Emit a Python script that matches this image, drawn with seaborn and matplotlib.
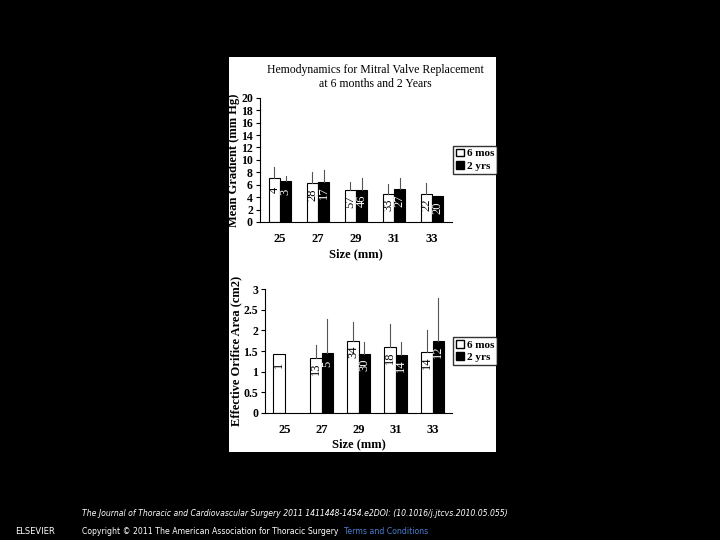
import matplotlib
matplotlib.use("Agg")
import matplotlib.pyplot as plt
import matplotlib.patches as mpatches
import seaborn as sns
import pandas as pd
import numpy as np

sizes = ["25", "27", "29", "31", "33"]
series = ["6 mos", "2 yrs"]
grad_6m = [7.0, 6.2, 5.1, 4.5, 4.5]
grad_6m_top = [8.8, 8.0, 6.5, 6.1, 6.2]
grad_2y = [6.6, 6.5, 5.2, 5.3, 4.1]
grad_2y_top = [7.4, 8.3, 7.1, 7.1, 4.1]
grad_n6 = ["4", "28", "57", "33", "22"]
grad_n2 = ["3", "17", "46", "27", "20"]
eoa_6m = [1.43, 1.33, 1.75, 1.60, 1.48]
eoa_6m_top = [1.43, 1.65, 2.2, 2.15, 2.0]
eoa_2y = [np.nan, 1.46, 1.43, 1.41, 1.74]
eoa_2y_top = [np.nan, 2.28, 1.73, 1.73, 2.8]
eoa_n6 = ["1", "13", "34", "18", "14"]
eoa_n2 = ["", "5", "30", "14", "12"]

serif = "Liberation Serif"
fig = plt.figure(figsize=(7.2, 5.4), dpi=100, facecolor="black")
bg = fig.add_axes([0.318, 0.163, 0.371, 0.731], zorder=-5)
bg.set_facecolor("white")
bg.set_xticks([]); bg.set_yticks([])
for s in bg.spines.values():
    s.set_visible(False)

def panel(rect, v6, t6, v2, t2, n6, n2, ylim, yticks, ylabel):
    ax = fig.add_axes(rect)
    ax.patch.set_alpha(0)
    vals = list(v6) + list(v2)
    df = pd.DataFrame({"size": sizes * 2, "series": [series[0]] * 5 + [series[1]] * 5,
                       "val": [0.0 if np.isnan(v) else v for v in vals]})
    sns.barplot(data=df, x="size", y="val", hue="series", palette=["white", "black"],
                edgecolor="black", linewidth=0.8, width=0.6, ax=ax, legend=False, errorbar=None)
    tops = list(t6) + list(t2)
    labels = list(n6) + list(n2)
    for i, p in enumerate(ax.patches[:10]):
        if np.isnan(vals[i]):
            p.set_visible(False)
            continue
        xc = p.get_x() + p.get_width() / 2
        ax.plot([xc, xc], [vals[i], tops[i]], color="#555555", lw=0.8, zorder=1)
        ax.text(xc, vals[i] - ylim[1] * 0.09, labels[i], rotation=90, ha="center", va="center",
                fontsize=9, fontfamily=serif, color="white" if i >= 5 else "black")
    ax.set_ylim(*ylim)
    ax.set_yticks(yticks)
    ax.set_yticklabels([f"{t:g}" for t in yticks], fontfamily=serif, fontweight="bold", fontsize=8.5)
    ax.set_xticks(range(5))
    ax.set_xticklabels(sizes, fontfamily=serif, fontweight="bold", fontsize=9)
    ax.set_xlabel("Size (mm)", fontfamily=serif, fontweight="bold", fontsize=9, labelpad=2)
    ax.set_ylabel(ylabel, fontfamily=serif, fontweight="bold", fontsize=9, labelpad=1)
    for s in ["top", "right"]:
        ax.spines[s].set_visible(False)
    ax.tick_params(axis="x", length=0, pad=8)
    ax.tick_params(axis="y", length=3, pad=2)
    handles = [mpatches.Patch(facecolor="white", edgecolor="black", label="6 mos"),
               mpatches.Patch(facecolor="black", edgecolor="black", label="2 yrs")]
    ax.legend(handles=handles, loc="center left", bbox_to_anchor=(1.0, 0.5),
              prop={"family": serif, "weight": "bold", "size": 8}, frameon=True,
              fancybox=False, edgecolor="black", handlelength=0.7, handleheight=0.7,
              handletextpad=0.3, borderpad=0.25, labelspacing=0.25, borderaxespad=0.1)
    return ax

ax1 = panel([0.361, 0.589, 0.267, 0.230], grad_6m, grad_6m_top, grad_2y, grad_2y_top,
            grad_n6, grad_n2, (0, 20), list(range(0, 21, 2)), "Mean Gradient (mm Hg)")
ax1.set_title("Hemodynamics for Mitral Valve Replacement\nat 6 months and 2 Years",
              fontfamily=serif, fontsize=8.5, pad=8, x=0.6)
ax2 = panel([0.368, 0.236, 0.260, 0.228], eoa_6m, eoa_6m_top, eoa_2y, eoa_2y_top,
            eoa_n6, eoa_n2, (0, 3), [0, 0.5, 1, 1.5, 2, 2.5, 3], "Effective Orifice Area (cm2)")

fig.text(0.114, 0.04, "The Journal of Thoracic and Cardiovascular Surgery 2011 1411448-1454.e2DOI: (10.1016/j.jtcvs.2010.05.055)",
         color="white", fontsize=5.6, style="italic", va="bottom")
fig.text(0.114, 0.008, "Copyright © 2011 The American Association for Thoracic Surgery", color="white",
         fontsize=5.6, va="bottom")
fig.text(0.478, 0.008, "Terms and Conditions", color="#4a7fd0", fontsize=5.6, va="bottom")
fig.text(0.048, 0.008, "ELSEVIER", color="white", fontsize=6, va="bottom", ha="center")
fig.savefig("out.png", dpi=100, facecolor="black")
